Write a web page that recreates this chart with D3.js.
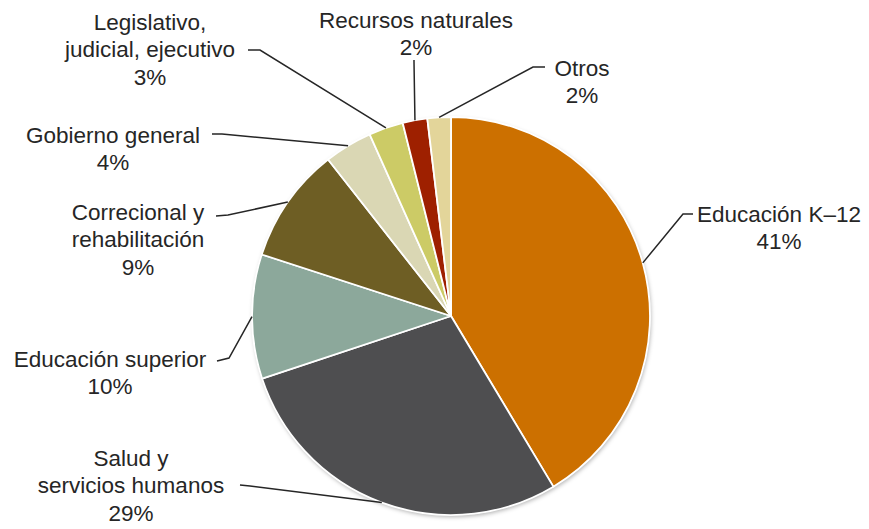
<!DOCTYPE html>
<html><head><meta charset="utf-8">
<script src="https://cdn.jsdelivr.net/npm/d3@7"></script>
<style>body{margin:0;background:#fff}svg{display:block}</style>
</head><body>
<script>
const categories = ["Educación K–12","Salud y servicios humanos","Educación superior","Correcional y rehabilitación","Gobierno general","Legislativo, judicial, ejecutivo","Recursos naturales","Otros"];
const values = [41.4, 28.5, 10.1, 9.4, 3.9, 2.8, 2.0, 1.9];
const pctLabels = ["41%","29%","10%","9%","4%","3%","2%","2%"];
const labelLines = [["Educación K–12"],["Salud y","servicios humanos"],["Educación superior"],["Correcional y","rehabilitación"],["Gobierno general"],["Legislativo,","judicial, ejecutivo"],["Recursos naturales"],["Otros"]];
const colors = ["#CC7000","#4E4E50","#8CA89B","#6E5E24","#DAD7B4","#CCCB66","#9E2000","#E3D59A"];

// layout (label anchor centre x, first line y) and leader start/elbow
const labelPos = [[779,214],[131,458],[110,359],[138,212],[113,135],[150,22],[416,20],[582,68]];
const leaderStart = [[693,214],[240,485],[217,361],[216,216],[212,134],[248,50],[414,60],[545,67]];
const leaderElbow = [[683,214],[250,486],[229,358],[228,215],[222,134],[260,50],[414,62],[533,67]];

const W=869,H=529, cx=451, cy=316, R=199, lh=27.5;
const svg=d3.select("body").append("svg").attr("width",W).attr("height",H);
const defs=svg.append("defs");
const f=defs.append("filter").attr("id","sh").attr("x","-10%").attr("y","-10%").attr("width","120%").attr("height","120%");
f.append("feDropShadow").attr("dx",1).attr("dy",2).attr("stdDeviation",2).attr("flood-color","#000").attr("flood-opacity",0.3);

const pie=d3.pie().sort(null).value(d=>d)(values);
const arc=d3.arc().innerRadius(0).outerRadius(R);
const g=svg.append("g").attr("transform",`translate(${cx},${cy})`);
g.append("circle").attr("r",R).attr("fill","#fff").attr("filter","url(#sh)");
g.selectAll("path").data(pie).join("path").attr("d",arc)
 .attr("fill",(d,i)=>colors[i]).attr("stroke","#fff").attr("stroke-width",1.8).attr("stroke-linejoin","round");

// leaders
pie.forEach((d,i)=>{
  const a=(d.startAngle+d.endAngle)/2;
  const px=cx+R*Math.sin(a), py=cy-R*Math.cos(a);
  svg.append("polyline").attr("points",[leaderStart[i],leaderElbow[i],[px,py]].map(p=>p.join(",")).join(" "))
   .attr("fill","none").attr("stroke","#262626").attr("stroke-width",1.5);
});
// labels
labelLines.forEach((lines,i)=>{
  const t=svg.append("text").attr("text-anchor","middle").attr("font-family","Liberation Sans, Arial, sans-serif")
    .attr("font-size",22.5).attr("fill","#262626");
  lines.concat([pctLabels[i]]).forEach((s,j)=>{
    t.append("tspan").attr("x",labelPos[i][0]).attr("y",labelPos[i][1]+j*lh).attr("dy","0.35em").text(s);
  });
});
</script>
</body></html>
